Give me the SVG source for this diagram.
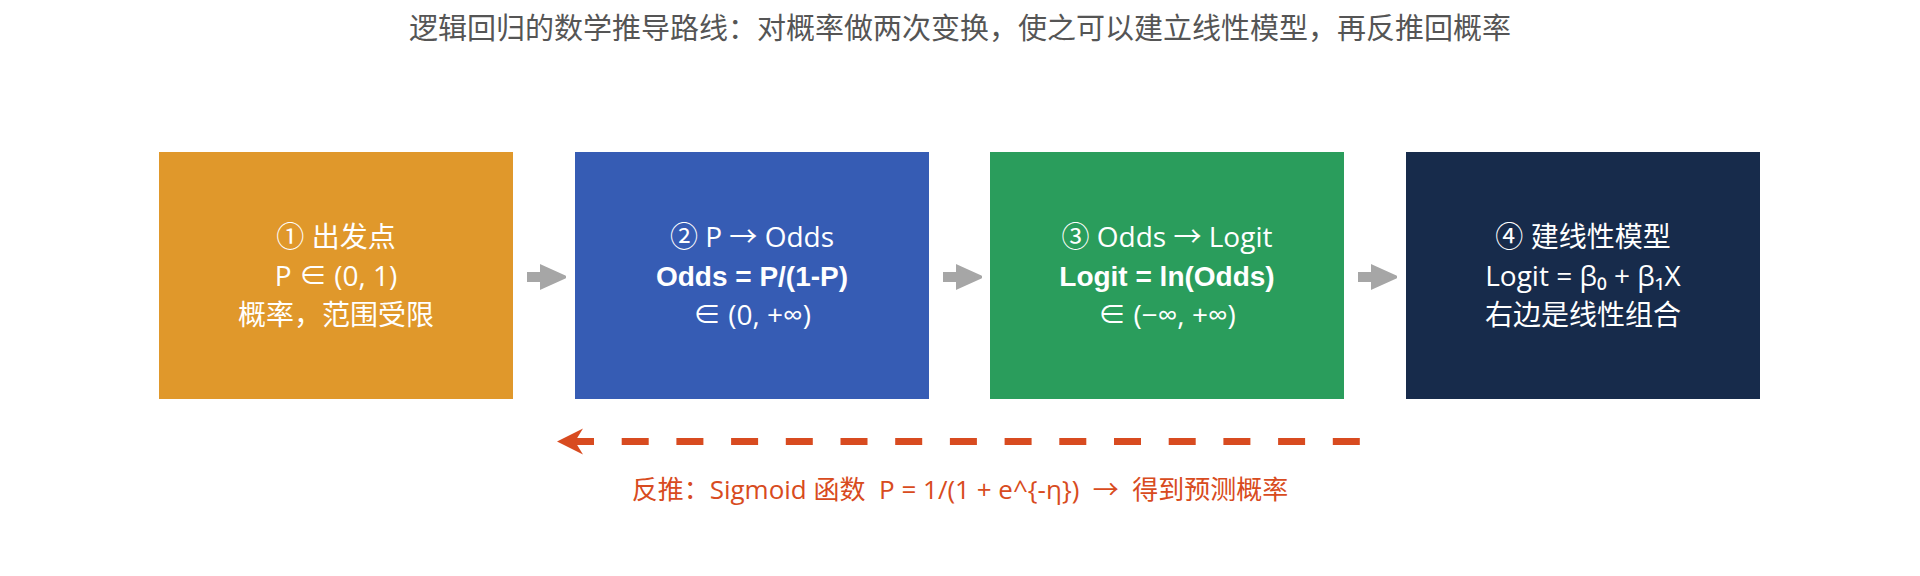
<svg xmlns="http://www.w3.org/2000/svg" width="1920" height="576" viewBox="0 0 1920 576">
  <defs>
    <style>
      .title { font-family: "Noto Sans CJK SC", "Noto Sans", sans-serif; font-size: 29px; fill: #555555; text-anchor: middle; }
      .box { stroke: none; }
      .t { font-family: "Open Sans", "Noto Sans CJK SC", sans-serif; font-size: 28px; fill: #ffffff; text-anchor: middle; }
      .b { font-family: "Liberation Sans", Arial, "Noto Sans CJK SC", sans-serif; font-size: 28px; font-weight: bold; fill: #ffffff; text-anchor: middle; }
      .flow { stroke: #a6a6a6; stroke-width: 10; fill: none; }
      .back { stroke: #d84b20; stroke-width: 7; fill: none; stroke-dasharray: 27 27.7; }
      .lbl { font-family: "Open Sans", "Noto Sans CJK SC", sans-serif; font-size: 26px; fill: #d84b20; text-anchor: middle; white-space: pre; }
    </style>
    <marker id="ah" viewBox="0 0 10 10" refX="2" refY="5" markerWidth="2.6" markerHeight="2.7" orient="auto" markerUnits="strokeWidth">
      <path d="M0,0.6 L9.6,5 L0,9.4 Z" fill="#a6a6a6" stroke="#a6a6a6" stroke-width="1.2" stroke-linejoin="round"/>
    </marker>
    <marker id="rh" viewBox="0 0 10 10" refX="3" refY="5" markerWidth="3.6" markerHeight="3.7" orient="auto" markerUnits="strokeWidth">
      <path d="M0,0 L10,5 L0,10 L3,5 Z" fill="#d84b20"/>
    </marker>
  </defs>
  <rect width="1920" height="576" fill="#ffffff"/>

  <text class="title" x="960" y="39">逻辑回归的数学推导路线：对概率做两次变换，使之可以建立线性模型，再反推回概率</text>

  <g id="node1">
    <rect class="box" x="159" y="152" width="354" height="247" fill="#e0982b"/>
    <text class="t" x="336" y="247">① 出发点</text>
    <text class="t" x="336" y="286">P ∈ (0, 1)</text>
    <text class="t" x="336" y="325">概率，范围受限</text>
  </g>
  <g id="node2">
    <rect class="box" x="575" y="152" width="354" height="247" fill="#365cb4"/>
    <text class="t" x="752" y="247">② P → Odds</text>
    <text class="b" x="752" y="286">Odds = P/(1-P)</text>
    <text class="t" x="752" y="325">∈ (0, +∞)</text>
  </g>
  <g id="node3">
    <rect class="box" x="990" y="152" width="354" height="247" fill="#2a9d5c"/>
    <text class="t" x="1167" y="247">③ Odds → Logit</text>
    <text class="b" x="1167" y="286">Logit = ln(Odds)</text>
    <text class="t" x="1167" y="325">∈ (−∞, +∞)</text>
  </g>
  <g id="node4">
    <rect class="box" x="1406" y="152" width="354" height="247" fill="#172b4b"/>
    <text class="t" x="1583" y="247">④ 建线性模型</text>
    <text class="t" x="1583" y="286">Logit = β₀ + β₁X</text>
    <text class="t" x="1583" y="325">右边是线性组合</text>
  </g>

  <g id="connectors">
    <line class="flow" x1="527" y1="277" x2="545" y2="277" marker-end="url(#ah)"/>
    <line class="flow" x1="943" y1="277" x2="961" y2="277" marker-end="url(#ah)"/>
    <line class="flow" x1="1358" y1="277" x2="1376" y2="277" marker-end="url(#ah)"/>
    <line class="back" x1="567" y1="441.5" x2="1360" y2="441.5"/>
    <path d="M557,441.5 L583,428.5 L575,441.5 L583,454.5 Z" fill="#d84b20"/>
    <text class="lbl" x="960" y="499" xml:space="preserve">反推：Sigmoid 函数  P = 1/(1 + e^{-η})  →  得到预测概率</text>
  </g>
</svg>
